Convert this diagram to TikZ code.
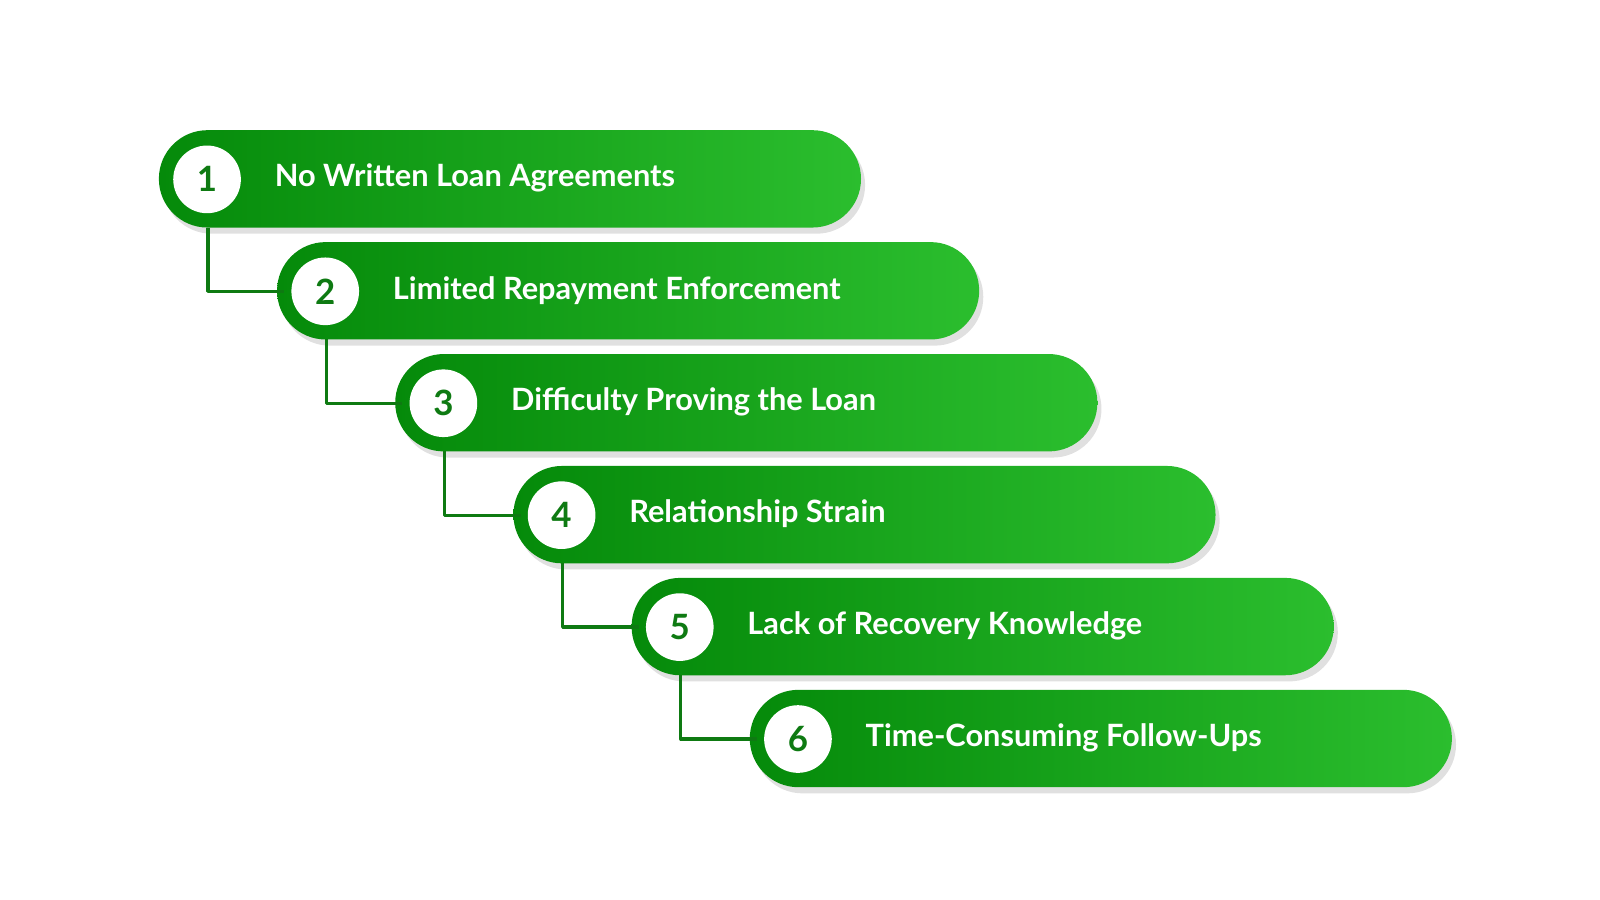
\documentclass[tikz,border=0pt]{standalone}
\usepackage{fontspec}
\setmainfont{Lato}
\definecolor{dg}{HTML}{058A0A}
\definecolor{lg}{HTML}{2BBE2E}
\definecolor{num}{HTML}{0E7A12}
\begin{document}
\begin{tikzpicture}[x=0.5pt,y=-0.5pt,
  lab/.style={anchor=west,text=white,font=\fontsize{15}{17}\selectfont\bfseries},
  nm/.style={circle,fill=white,minimum size=33pt,inner sep=0pt,text=num,font=\fontsize{17}{19}\selectfont\bfseries},
  conn/.style={draw=num,line width=1.6pt,line join=round}]
\useasboundingbox (0,0) rectangle (1561,878);
\foreach \i/\t in {0/No Written Loan Agreements,1/Limited Repayment Enforcement,2/Difficulty Proving the Loan,3/Relationship Strain,4/Lack of Recovery Knowledge,5/Time-Consuming Follow-Ups}{
  \pgfmathsetmacro\xl{155+115.3*\i}
  \pgfmathsetmacro\yt{127+109.2*\i}
  \fill[black,opacity=0.12,rounded corners=23.7pt] (\xl+4,\yt+6) rectangle ++(685,95);
  \shade[left color=dg,right color=lg,rounded corners=23.7pt] (\xl,\yt) rectangle ++(685,95);
  \pgfmathtruncatemacro\k{\i+1}
  \node[nm] (n\i) at (\xl+47,\yt+48) {\k};
  \node[lab] (t\i) at (\xl+106,\yt+47) {\t};
  \coordinate (b\i) at (\xl+48,\yt+95);
  \coordinate (p\i) at (\xl+7,\yt+48);
}
\foreach \i [evaluate=\i as \j using int(\i+1)] in {0,...,4}{
  \draw[conn] (b\i) |- (p\j);
}
\end{tikzpicture}
\end{document}
